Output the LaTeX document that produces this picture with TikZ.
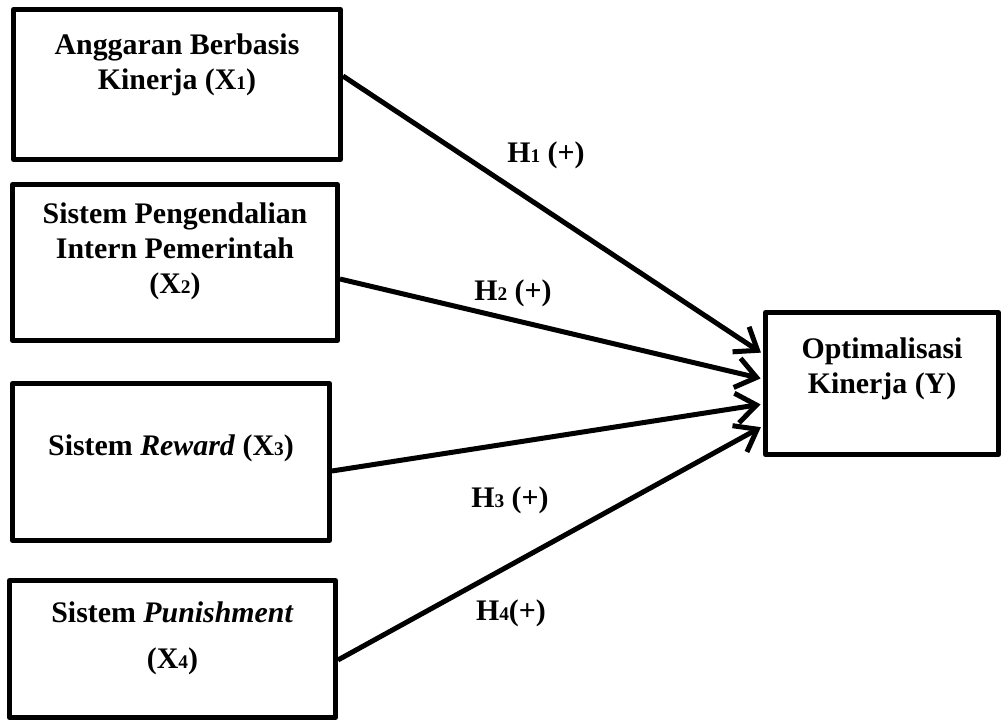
\documentclass[tikz,border=0pt]{standalone}
\usepackage{fontspec}
\setmainfont{Liberation Serif}
\usetikzlibrary{arrows.meta,calc}

\newcommand{\idx}[1]{{\fontsize{11}{11}\selectfont #1}}

\begin{document}
\begin{tikzpicture}[
    x=0.02cm, y=-0.02cm,
    varbox/.style={rectangle, draw, line width=0.1cm, line join=round, inner sep=0pt},
    boxtext/.style={align=center, font=\fontsize{17}{20}\selectfont\bfseries},
    hyp/.style={font=\fontsize{17}{20}\selectfont\bfseries},
    arrow/.style={-{Straight Barb[length=4mm,width=6mm]}, line width=0.1cm, shorten >=1.4pt}
]
\useasboundingbox (0,0) rectangle (1001,722);
% variables
\node[varbox, minimum width=6.54cm, minimum height=3.0cm] (x1) at (177,84.5) {};
\node[varbox, minimum width=6.5cm, minimum height=3.12cm] (x2) at (175,262.5) {};
\node[varbox, minimum width=6.34cm, minimum height=3.14cm] (x3) at (171,462) {};
\node[varbox, minimum width=6.52cm, minimum height=2.74cm] (x4) at (172.5,649) {};
\node[varbox, minimum width=4.66cm, minimum height=2.84cm] (y) at (882,383.5) {};
\node[boxtext] (x1t) at ($(x1)+(0,-20)$) {Anggaran Berbasis\\Kinerja (X\idx{1})};
\node[boxtext] (x2t) at ($(x2)+(0,-11)$) {Sistem Pengendalian\\Intern Pemerintah\\(X\idx{2})};
\node[boxtext] (x3t) at ($(x3)+(0,-14)$) {Sistem \textit{Reward} (X\idx{3})};
\node[boxtext] (x4t) at ($(x4)+(0,-11)$) {Sistem \textit{Punishment}\\[6pt](X\idx{4})};
\node[boxtext] (yt) at ($(y)+(0,-15)$) {Optimalisasi\\Kinerja (Y)};
% hypotheses
\draw[arrow] ($(x1.east)+(0,-8.5)$) -- ($(y.west)+(0,-29.5)$);
\draw[arrow] ($(x2.east)+(0,16.5)$) -- ($(y.west)+(0,-4.5)$);
\draw[arrow] ($(x3.east)+(0,9)$) -- ($(y.west)+(0,20.5)$);
\draw[arrow] ($(x4.east)+(0,11)$) -- ($(y.west)+(0,42.5)$);
\node[hyp] (h1) at (546,155) {H\idx{1} (+)};
\node[hyp] (h2) at (513,293) {H\idx{2} (+)};
\node[hyp] (h3) at (510,500) {H\idx{3} (+)};
\node[hyp] (h4) at (511,613) {H\idx{4}(+)};
\end{tikzpicture}
\end{document}
